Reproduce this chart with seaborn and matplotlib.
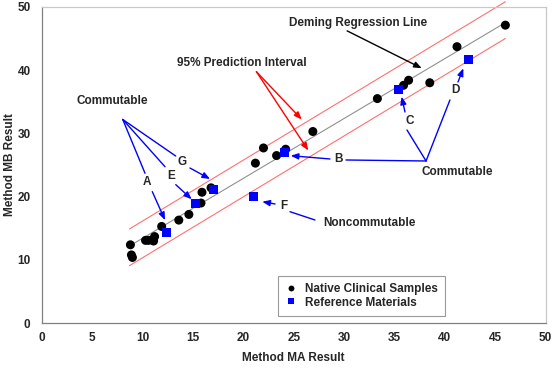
import matplotlib
matplotlib.use("Agg")
import matplotlib.pyplot as plt
import seaborn as sns
import pandas as pd

# ---- data ----
native_x = [8.8, 8.9, 9.0, 10.3, 10.6, 11.0, 11.1, 11.2, 11.9, 13.6, 14.6, 15.8, 15.9, 16.8,
            21.2, 22.0, 23.3, 24.2, 26.9, 33.3, 35.9, 36.4, 38.5, 41.2, 46.0]
native_y = [12.4, 10.8, 10.4, 13.1, 13.1, 13.2, 13.0, 13.7, 15.3, 16.3, 17.2, 19.0, 20.7, 21.4,
            25.3, 27.7, 26.5, 27.5, 30.3, 35.5, 37.6, 38.4, 38.0, 43.7, 47.1]
ref_labels = ["A", "E", "G", "F", "B", "C", "D"]
ref_x = [12.4, 15.3, 17.0, 21.0, 24.1, 35.4, 42.3]
ref_y = [14.3, 19.0, 21.1, 20.0, 27.0, 37.0, 41.7]

line_x = [8.7, 46.0]
deming_y = [12.2, 47.5]
pi_upper_y = [14.9, 50.8]
pi_lower_y = [9.1, 45.0]

series_names = ["Native Clinical Samples", "Reference Materials"]
x_ticks = [0, 5, 10, 15, 20, 25, 30, 35, 40, 45, 50]
y_ticks = [0, 10, 20, 30, 40, 50]

df = pd.DataFrame({
    "x": native_x + ref_x,
    "y": native_y + ref_y,
    "group": [series_names[0]] * len(native_x) + [series_names[1]] * len(ref_x),
})

sns.set_style("white")
plt.rcParams["font.family"] = ["Liberation Sans", "DejaVu Sans"]
plt.rcParams["font.weight"] = "bold"

fig = plt.figure(figsize=(5.54, 3.68), dpi=100)
ax = fig.add_axes([0.0753, 0.1215, 0.9097, 0.86])

FS = 8.5
GRAY = "#808080"

# lines
sns.lineplot(x=line_x, y=pi_upper_y, color="#FF7070", lw=0.8, ax=ax, clip_on=False)
sns.lineplot(x=line_x, y=pi_lower_y, color="#FF7070", lw=0.8, ax=ax, clip_on=False)
sns.lineplot(x=line_x, y=deming_y, color="#909090", lw=0.8, ax=ax)

sns.scatterplot(data=df, x="x", y="y", hue="group", style="group",
                markers={series_names[0]: "o", series_names[1]: "s"},
                palette={series_names[0]: "black", series_names[1]: "#0000FF"},
                s=42, linewidth=0, ax=ax, zorder=5)

ax.set_xlim(0, 50)
ax.set_ylim(0, 50)
ax.set_xticks(x_ticks)
ax.set_yticks(y_ticks)
ax.set_xticklabels([str(t) for t in x_ticks], fontsize=FS, fontweight="bold")
ax.set_yticklabels([str(t) for t in y_ticks], fontsize=FS, fontweight="bold")
ax.tick_params(axis="both", direction="out", length=3, width=0.8, color=GRAY)
ax.tick_params(axis="x", pad=3)
ax.tick_params(axis="y", pad=5)
for sp in ax.spines.values():
    sp.set_color(GRAY)
    sp.set_linewidth(0.9)
for side in ("top", "right"):
    ax.spines[side].set_color("#C8C8C8")

ax.set_xlabel("Method MA Result", fontsize=FS, fontweight="bold")
ax.set_ylabel("Method MB Result", fontsize=FS, fontweight="bold")
ax.xaxis.set_label_coords(0.5, -0.092)
ax.yaxis.set_label_coords(-0.052, 0.5)

handles, labels = ax.get_legend_handles_labels()
leg = ax.legend(handles, labels, loc="lower left", bbox_to_anchor=(0.469, 0.024),
                borderaxespad=0, frameon=True, fancybox=False, fontsize=FS,
                prop={"weight": "bold", "size": FS}, handletextpad=0.67,
                handlelength=1.0, borderpad=0.6, labelspacing=0.15, markerscale=0.65)
leg.get_frame().set_edgecolor(GRAY)
leg.get_frame().set_linewidth(0.8)

# ---- annotations ----
def txt(s, x, y, **kw):
    ax.text(x, y, s, ha="center", va="center", fontsize=FS, fontweight="bold",
            clip_on=False, zorder=6, **kw)

def arrow(start, end, color):
    ax.annotate("", xy=end, xytext=start,
                arrowprops=dict(arrowstyle="-|>,head_length=0.45,head_width=0.18",
                                color=color, lw=1.0, shrinkA=0, shrinkB=0),
                annotation_clip=False, zorder=6)

def seg(start, end, color):
    ax.annotate("", xy=end, xytext=start,
                arrowprops=dict(arrowstyle="-", color=color, lw=1.0, shrinkA=0, shrinkB=0),
                annotation_clip=False, zorder=6)

BLUE = "#0000FF"
RED = "#FF0000"

txt("Deming Regression Line", 31.4, 47.4)
arrow((30.3, 46.2), (37.7, 40.3), "black")

txt("95% Prediction Interval", 19.9, 41.1)
arrow((21.3, 39.75), (25.8, 32.2), RED)
arrow((21.3, 39.75), (26.45, 27.3), RED)

# left commutable group
txt("Commutable", 6.97, 35.1)
hub = (8.04, 32.2)
txt("A", 10.4, 22.4)
seg(hub, (10.25, 23.7), BLUE)
arrow((10.97, 20.8), (12.23, 16.3), BLUE)
txt("E", 12.85, 23.2)
seg(hub, (12.23, 24.74), BLUE)
arrow((13.3, 21.9), (14.88, 19.6), BLUE)
txt("G", 13.95, 25.45)
seg(hub, (13.29, 26.43), BLUE)
arrow((14.71, 24.53), (16.7, 22.8), BLUE)

# right commutable group
txt("Commutable", 41.25, 23.9)
hub2 = (38.13, 25.64)
txt("B", 29.42, 25.9)
seg(hub2, (30.19, 25.8), BLUE)
arrow((28.6, 25.96), (24.7, 26.48), BLUE)
txt("C", 36.54, 32.0)
seg(hub2, (36.24, 30.54), BLUE)
arrow((36.04, 33.38), (35.71, 35.8), BLUE)
txt("D", 41.07, 36.86)
seg(hub2, (40.5, 35.28), BLUE)
arrow((41.3, 38.12), (41.83, 40.28), BLUE)

# noncommutable
txt("F", 23.97, 18.53)
arrow((23.15, 18.85), (21.88, 19.21), BLUE)
seg((24.63, 17.63), (27.11, 16.32), BLUE)
txt("Noncommutable", 32.47, 15.85)

fig.savefig("out.png", dpi=100)
